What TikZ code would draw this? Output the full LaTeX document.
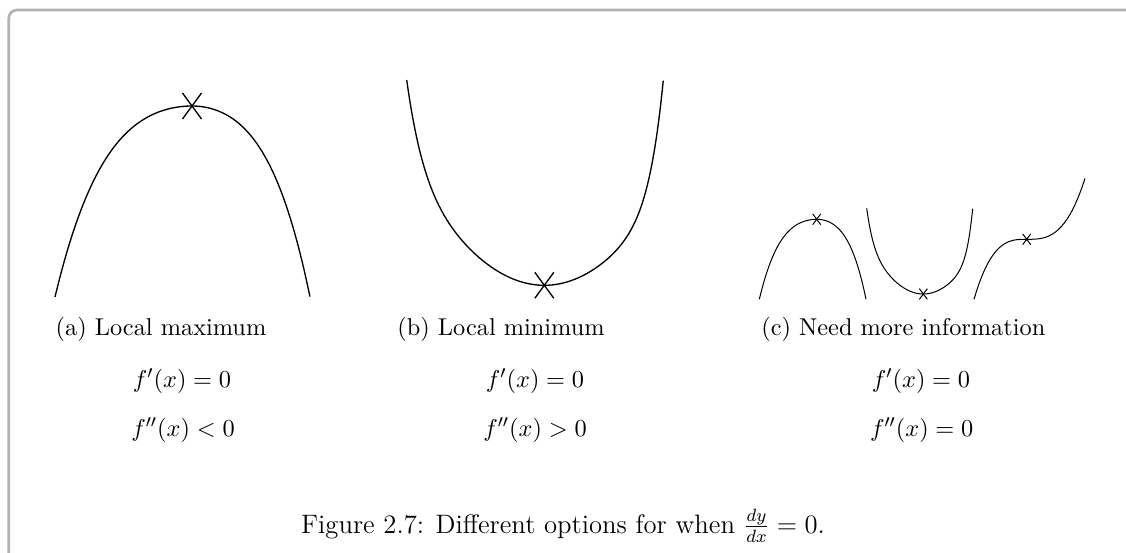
\documentclass[tikz,border=0pt]{standalone}
\usepackage{amsmath}
\begin{document}
\begin{tikzpicture}[x=0.45pt,y=-0.45pt,
  frame/.style={draw=black!30, line width=1.2pt, rounded corners=3.8pt},
  curve/.style={draw=black, line width=0.6pt, line join=round},
  smallcurve/.style={draw=black, line width=0.45pt, line join=round},
  sub/.style={anchor=base, inner sep=0pt, font=\fontsize{10.95}{13.6}\selectfont},
  figcap/.style={anchor=base, inner sep=0pt, font=\fontsize{12}{14.5}\selectfont}]
\useasboundingbox (0,0) rectangle (1126,552);
\draw[frame] (8.7,10) rectangle (1160,580);

% ---- panel (a): local maximum
\coordinate (amax) at (192,106);
\draw[curve,samples=60] plot[domain=-1:0] ({192+137*\x},{106+191*(0.5*\x*\x+0.5*\x*\x*\x*\x)})
  -- plot[domain=0:1] ({192+118*\x},{106+191*(0.5*\x*\x+0.5*\x*\x*\x*\x)});
\draw[curve] ([shift={(-9.5,-13)}]amax) -- ([shift={(9.5,13)}]amax)
             ([shift={(-9.5,13)}]amax) -- ([shift={(9.5,-13)}]amax);

% ---- panel (b): local minimum
\coordinate (bmin) at (544.3,285.3);
\draw[curve,samples=90] plot[domain=1:0] ({544.3-137.6*\x},{285.3-205.3*(0.6*\x*\x+0.4*\x^9)})
  -- plot[domain=0:1] ({544.3+119*\x},{285.3-205.3*(0.45*\x*\x+0.55*\x^9)});
\draw[curve] ([shift={(-9.5,-13)}]bmin) -- ([shift={(9.5,13)}]bmin)
             ([shift={(-9.5,13)}]bmin) -- ([shift={(9.5,-13)}]bmin);

% ---- panel (c): three small curves
\coordinate (c1) at (816.7,219.3);
\draw[smallcurve,samples=50] plot[domain=-1:0] ({816.7+57.4*\x},{219.3+80*(0.5*\x*\x+0.5*\x*\x*\x*\x)})
  -- plot[domain=0:1] ({816.7+49.3*\x},{219.3+80*(0.5*\x*\x+0.5*\x*\x*\x*\x)});
\draw[smallcurve] ([shift={(-4,-5.4)}]c1) -- ([shift={(4,5.4)}]c1)
                  ([shift={(-4,5.4)}]c1) -- ([shift={(4,-5.4)}]c1);

\coordinate (c2) at (923.3,294);
\draw[smallcurve,samples=60] plot[domain=1:0] ({923.3-56.6*\x},{294-85.7*(0.6*\x*\x+0.4*\x^9)})
  -- plot[domain=0:1] ({923.3+49.4*\x},{294-85.7*(0.45*\x*\x+0.55*\x^9)});
\draw[smallcurve] ([shift={(-4,-5.4)}]c2) -- ([shift={(4,5.4)}]c2)
                  ([shift={(-4,5.4)}]c2) -- ([shift={(4,-5.4)}]c2);

\coordinate (c3) at (1026.7,239.3);
\draw[smallcurve,samples=50] plot[domain=-1:0] ({1026.7+52.7*\x},{239.3-60*\x*\x*\x})
  -- plot[domain=0:1] ({1026.7+58.3*\x},{239.3-61*\x*\x*\x});
\draw[smallcurve] ([shift={(-4,-5.4)}]c3) -- ([shift={(4,5.4)}]c3)
                  ([shift={(-4,5.4)}]c3) -- ([shift={(4,-5.4)}]c3);

% ---- sub-captions and conditions
\node[sub] (capa) at (161,335) {(a) Local maximum};
\node[sub] (capb) at (501,335) {(b) Local minimum};
\node[sub] (capc) at (903.3,335) {(c) Need more information};

\node[sub] (a1) at (182,387.5) {$f'(x) = 0$};
\node[sub] (a2) at (183,436.5) {$f''(x) < 0$};
\node[sub] (b1) at (535,387.5) {$f'(x) = 0$};
\node[sub] (b2) at (535,436.5) {$f''(x) > 0$};
\node[sub] (c1t) at (921,387.5) {$f'(x) = 0$};
\node[sub] (c2t) at (921.7,436.5) {$f''(x) = 0$};

% ---- figure caption
\node[figcap] (fig) at (563,533) {Figure 2.7: Different options for when $\frac{dy}{dx} = 0$.};
\end{tikzpicture}
\end{document}
